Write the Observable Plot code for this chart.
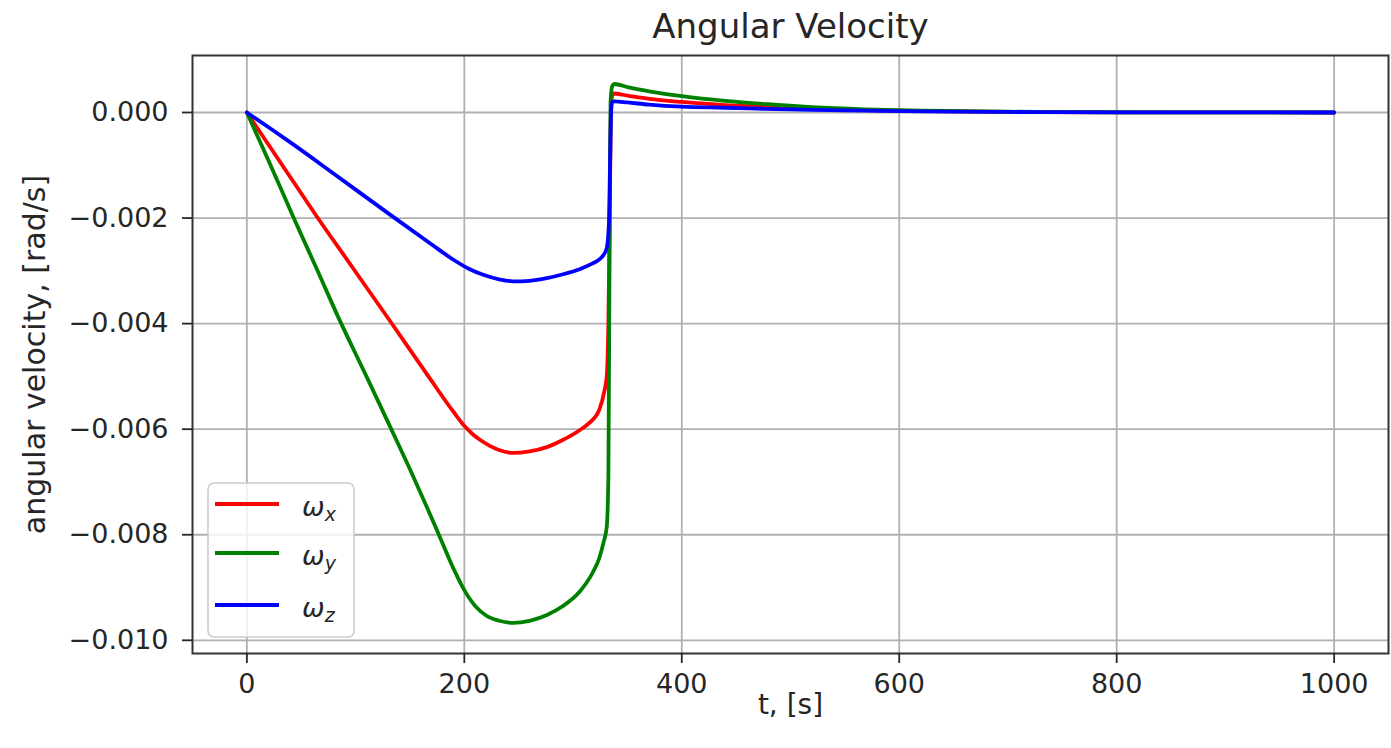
<!DOCTYPE html>
<html><head><meta charset="utf-8">
<script src="https://cdn.jsdelivr.net/npm/d3@7"></script>
<script src="https://cdn.jsdelivr.net/npm/@observablehq/plot@0.6"></script>
<style>
html,body{margin:0;padding:0;background:#fff;}
#wrap{position:relative;width:1391px;height:748px;font-family:"DejaVu Sans",sans-serif;}
#legend{position:absolute;left:207px;top:482px;}
</style></head><body><div id="wrap"></div>
<script>
// ---- data ----
const tX = [0, 32, 64, 98, 132, 167, 190, 201, 208, 215, 230, 245, 260, 276, 290, 306, 315, 324, 329, 331, 332.5, 334, 335, 337, 350, 370, 400, 440, 477, 520, 568, 620, 700, 800, 900, 1000];
const wX = [0, -0.00098, -0.00196, -0.00296, -0.00396, -0.00500, -0.00567, -0.00596, -0.00610, -0.00621, -0.00638, -0.00645, -0.00642, -0.00634, -0.00621, -0.00602, -0.00588, -0.00564, -0.00526, -0.00500, -0.00400, -0.00150, 0.00020, 0.00036, 0.00032, 0.00026, 0.00020, 0.00014, 0.00011, 0.00007, 0.000045, 0.000025, 0.00001, 0.000004, 0.000001, 0];

const tY = [0, 21, 42.7, 64, 85, 110, 134, 150, 165, 176, 190, 200, 210, 220, 232, 245, 260, 276, 290, 306, 318, 324, 328, 331, 332.5, 333.5, 334.5, 336, 338, 350, 370, 400, 440, 477, 520, 568, 620, 700, 800, 900, 1000];
const wY = [0, -0.00096, -0.00198, -0.00295, -0.00392, -0.00500, -0.00605, -0.00676, -0.00745, -0.00797, -0.00864, -0.00905, -0.00935, -0.00953, -0.00963, -0.00967, -0.00963, -0.00952, -0.00936, -0.00908, -0.00872, -0.00845, -0.00815, -0.00785, -0.00690, -0.00300, 0.00020, 0.00050, 0.00054, 0.00048, 0.00040, 0.00031, 0.00022, 0.00016, 0.00010, 0.00006, 0.000035, 0.000015, 0.000005, 0.000002, 0];

const tZ = [0, 20, 41, 80, 132, 170, 190, 205, 218, 232, 245, 260, 276, 290, 306, 318, 324.5, 328, 331, 333, 334, 335, 336, 338, 350, 370, 400, 440, 477, 520, 568, 620, 700, 800, 900, 1000];
const wZ = [0, -0.00028, -0.00058, -0.00116, -0.00194, -0.00250, -0.00279, -0.00297, -0.00308, -0.00316, -0.00320, -0.00319, -0.00314, -0.00307, -0.00297, -0.00286, -0.00278, -0.00270, -0.00257, -0.00210, -0.00100, 0.00000, 0.00020, 0.00021, 0.00019, 0.00015, 0.00011, 0.00009, 0.00007, 0.00005, 0.000035, 0.00002, 0.00001, 0.000004, 0.000001, 0];

const seriesSub = ["x", "y", "z"];
const seriesColors = ["#ff0000", "#008000", "#0000ff"];
const xTicks = [0, 200, 400, 600, 800, 1000];
const yTicks = [0, -0.002, -0.004, -0.006, -0.008, -0.010];
const titleText = "Angular Velocity";
const xLabel = "t, [s]";
const yLabel = "angular velocity, [rad/s]";

const series = [[tX, wX], [tY, wY], [tZ, wZ]].map(([ts, ws], k) =>
  ts.map((t, i) => ({t, w: ws[i], s: seriesSub[k]})));

const FONT = '"DejaVu Sans", sans-serif';
const INK = "#262626";

const chart = Plot.plot({
  width: 1391, height: 748,
  marginLeft: 192, marginRight: 3, marginTop: 55, marginBottom: 95,
  style: {fontFamily: FONT, fontSize: "27px", color: INK, background: "#fff"},
  x: {domain: [-50, 1050], label: null},
  y: {domain: [-0.01025, 0.00108], label: null},
  marks: [
    Plot.gridX(xTicks, {stroke: "#b0b0b0", strokeOpacity: 1, strokeWidth: 1.8}),
    Plot.gridY(yTicks, {stroke: "#b0b0b0", strokeOpacity: 1, strokeWidth: 1.8}),
    ...series.map((d, k) => Plot.line(d, {x: "t", y: "w", stroke: seriesColors[k], strokeWidth: 3.8, curve: "monotone-x"})),
    Plot.frame({stroke: "#333", strokeWidth: 2}),
    Plot.axisX(xTicks, {tickSize: 10, tickPadding: 10, fontSize: 27, stroke: INK, strokeWidth: 1.8, label: null, tickFormat: d => String(d)}),
    Plot.axisY(yTicks, {tickSize: 10, tickPadding: 14, fontSize: 27, stroke: INK, strokeWidth: 1.8, label: null, tickFormat: d3.format(".3f")}),
    Plot.text([xLabel], {text: d => d, frameAnchor: "bottom", dy: 52, fontSize: 28, lineAnchor: "middle", textAnchor: "middle", fill: INK}),
    Plot.text([yLabel], {text: d => d, frameAnchor: "left", dx: -157, rotate: -90, fontSize: 30, lineAnchor: "middle", textAnchor: "middle", fill: INK}),
    Plot.text([titleText], {text: d => d, frameAnchor: "top", dy: -28, fontSize: 34, lineAnchor: "middle", textAnchor: "middle", fill: INK})
  ]
});
const wrap = document.getElementById("wrap");
wrap.appendChild(chart);

// ---- legend overlay ----
const lg = d3.select(wrap).append("svg").attr("id", "legend")
  .attr("width", 150).attr("height", 158);
lg.append("rect").attr("x", 1).attr("y", 1).attr("width", 146).attr("height", 154)
  .attr("rx", 6).attr("fill", "rgba(255,255,255,0.8)").attr("stroke", "#cccccc").attr("stroke-width", 1.5);
const rowsY = [22, 71, 123];
seriesSub.forEach((s, k) => {
  lg.append("line").attr("x1", 8).attr("x2", 72).attr("y1", rowsY[k]).attr("y2", rowsY[k])
    .attr("stroke", seriesColors[k]).attr("stroke-width", 3.8);
  const tx = lg.append("text").attr("x", 95).attr("y", rowsY[k] + 12)
    .attr("font-family", FONT).attr("font-style", "italic").attr("font-size", 27).attr("fill", INK);
  tx.append("tspan").text("ω");
  tx.append("tspan").attr("dy", 5).attr("font-size", 19).text(s);
});
</script>
</body></html>
